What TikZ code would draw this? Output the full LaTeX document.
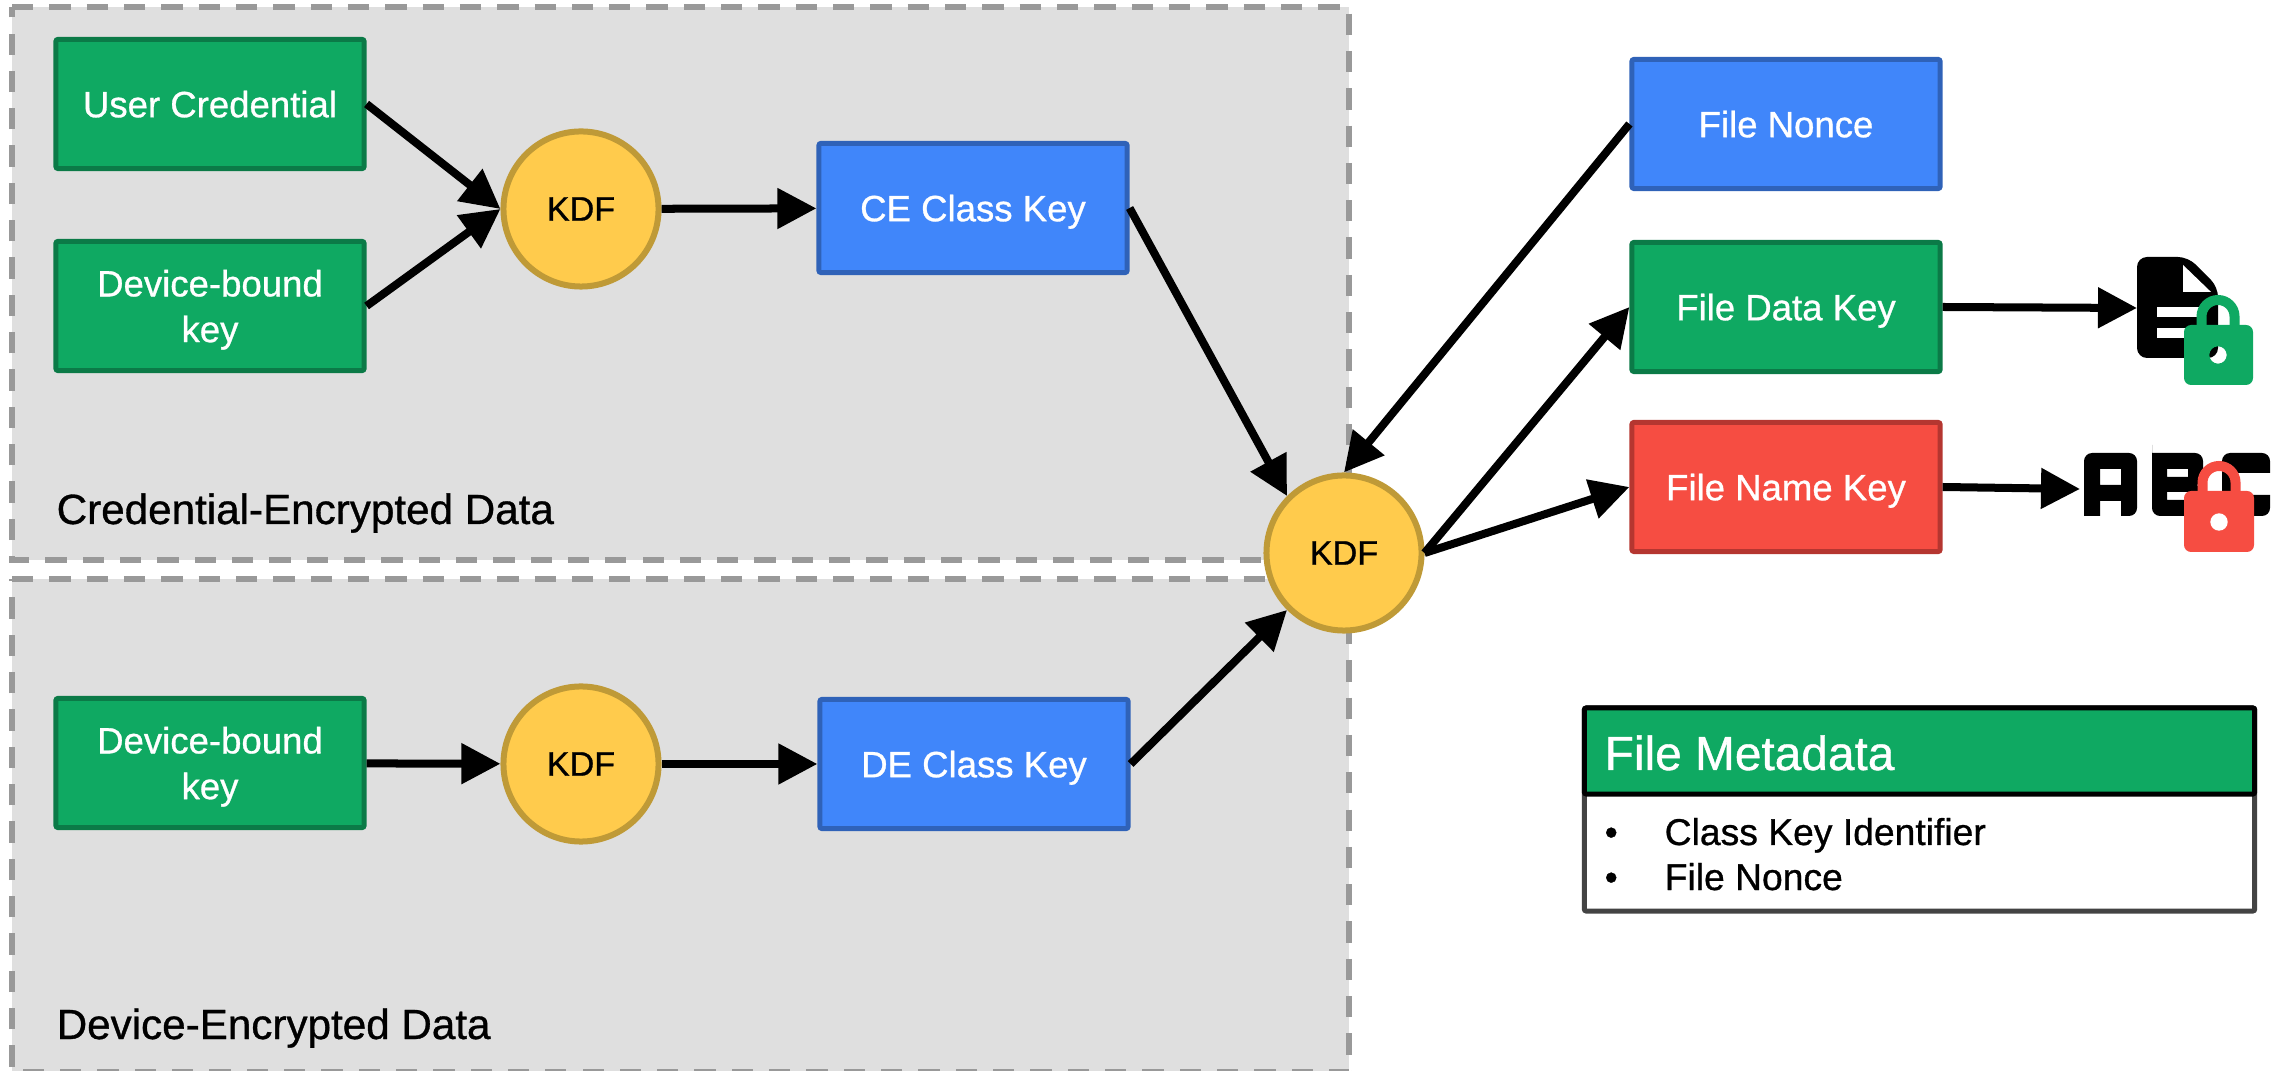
\documentclass[tikz,border=0pt]{standalone}
\usepackage{fontspec}
\setmainfont[FakeBold=0.8]{Liberation Sans}
\usetikzlibrary{arrows.meta}
\definecolor{regionfill}{HTML}{DFDFDF}
\definecolor{regionline}{HTML}{999999}
\definecolor{greenfill}{HTML}{0FA962}
\definecolor{greenline}{HTML}{0B7A47}
\definecolor{bluefill}{HTML}{4086FA}
\definecolor{blueline}{HTML}{2F62B8}
\definecolor{redfill}{HTML}{F64D42}
\definecolor{redline}{HTML}{B53630}
\definecolor{kdffill}{HTML}{FFCB4C}
\definecolor{kdfline}{HTML}{BF9A37}
\definecolor{metaline}{HTML}{434343}
\tikzset{
  keybox/.style={draw, line width=0.05cm, rounded corners=0.02cm, minimum width=3.08cm, minimum height=1.29cm,
    align=center, text=white, text depth=0pt, font=\fontsize{10.4}{13}\selectfont},
  greenbox/.style={keybox, fill=greenfill, draw=greenline},
  bluebox/.style={keybox, fill=bluefill, draw=blueline},
  redbox/.style={keybox, fill=redfill, draw=redline},
  kdf/.style={circle, draw=kdfline, fill=kdffill, line width=0.06cm, minimum size=1.55cm, inner sep=0pt,
    font=\fontsize{9.7}{13}\selectfont},
  region/.style={fill=regionfill, draw=regionline, line width=0.055cm, dash pattern=on 0.213cm off 0.16cm},
  regionlabel/.style={anchor=base west, inner sep=0pt, font=\fontsize{12}{14}\selectfont},
  metatext/.style={anchor=base west, inner sep=0pt, font=\fontsize{10.6}{13}\selectfont},
  link/.style={line width=0.08cm, -{Triangle[length=0.39cm,width=0.39cm]}},
}
\begin{document}
\begin{tikzpicture}[x=0.01cm,y=-0.01cm]
\useasboundingbox (0,0) rectangle (2295,1071);

% grey areas
\draw [region] (12,7) -- (1349,7) -- (1349,560) -- (12,560) -- cycle;
\draw [region] (12,579) -- (1349,579) -- (1349,1072) -- (12,1072) -- cycle;
\node [regionlabel] (celabel) at (56,524) {Credential-Encrypted Data};
\node [regionlabel] (delabel) at (56,1039) {Device-Encrypted Data};

% upper row
\node [greenbox] (cred) at (210,104) {User Credential};
\node [greenbox] (cebound) at (210,306) {Device-bound\\key};
\node [kdf] (cekdf) at (581,209) {KDF};
\node [bluebox] (cekey) at (973,208) {CE Class Key};

% lower row
\node [greenbox] (debound) at (210,763) {Device-bound\\key};
\node [kdf] (dekdf) at (581,764) {KDF};
\node [bluebox] (dekey) at (974,764) {DE Class Key};

% right side
\node [kdf] (filekdf) at (1344,553) {KDF};
\node [bluebox] (nonce) at (1786,124) {File Nonce};
\node [greenbox] (datakey) at (1786,307) {File Data Key};
\node [redbox] (namekey) at (1786,487) {File Name Key};
\coordinate (docicon) at (2137,308);
\coordinate (abcicon) at (2080,489);

\draw [link] (cred.east) -- (cekdf.west);
\draw [link] (cebound.east) -- (cekdf.west);
\draw [link] (cekdf) -- (cekey);
\draw [link] (cekey.east) -- (filekdf.135);
\draw [link] (debound) -- (dekdf);
\draw [link] (dekdf) -- (dekey);
\draw [link] (dekey.east) -- (filekdf.225);
\draw [link] (nonce.west) -- (filekdf.north);
\draw [link] (filekdf.east) -- (datakey.west);
\draw [link] (filekdf.east) -- (namekey.west);
\draw [link] (datakey.east) -- (docicon);
\draw [link] (namekey.east) -- (abcicon);

% file icon
\fill [rounded corners=0.1cm] (2137,257) -- (2188,257) -- (2218,287) -- (2218,358) -- (2137,358) -- cycle;
\fill [white] (2183,265) -- (2211,292) -- (2183,292) -- cycle;
\fill [white] (2157,307) rectangle (2205,317);
\fill [white] (2157,328) rectangle (2205,338);
\draw [greenfill, line width=0.1cm] (2201.5,326) -- (2201.5,316.5) arc [start angle=180, end angle=360, radius=16.5] -- (2234.5,326);
\fill [greenfill, even odd rule, rounded corners=0.07cm] (2184,325) rectangle (2253,385)
  [sharp corners] (2218,355) circle [radius=8.7];

% abc icon
\fill [even odd rule] [rounded corners=0.08cm] (2084,516) -- (2084,453) -- (2137,453) -- (2137,516) [sharp corners] -- (2121,516) -- (2121,501) -- (2100,501) -- (2100,516) -- cycle
  (2100,469) rectangle (2121,485);
\fill [even odd rule] [rounded corners=0.08cm] (2152,516) -- (2152,453) [sharp corners] -- (2152,453) [rounded corners=0.08cm] -- (2203,453) -- (2203,484) -- (2196,485) -- (2203,486) -- (2203,516) -- cycle
  [sharp corners] (2167,469) rectangle (2188,477) (2167,492) rectangle (2188,500);
\fill [rounded corners=0.08cm] (2222,453) -- (2270,453) -- (2270,473) [sharp corners] -- (2270,473) -- (2236,473) -- (2236,495) -- (2270,495) [rounded corners=0.08cm] -- (2270,516) -- (2222,516) -- cycle;
\draw [redfill, line width=0.1cm] (2202.5,492) -- (2202.5,482.5) arc [start angle=180, end angle=360, radius=16.5] -- (2235.5,492);
\fill [redfill, rounded corners=0.07cm] (2184,491) rectangle (2254,552);
\fill [white] (2219,522) circle [radius=8.7];

% metadata table
\node [draw=metaline, fill=white, line width=0.05cm, rounded corners=0.02cm, minimum width=6.7cm, minimum height=2.03cm] (metabody) at (1919.5,809.5) {};
\node [draw=black, fill=greenfill, line width=0.05cm, rounded corners=0.02cm, minimum width=6.7cm, minimum height=0.86cm] (metahead) at (1919.5,751) {};
\node [anchor=base west, inner sep=0pt, text=white, font=\fontsize{13.6}{16}\selectfont] (metatitle) at (1604,770) {File Metadata};
\node [metatext] (bulleta) at (1604,845) {\textbullet};
\node [metatext] (itema) at (1664,845) {Class Key Identifier};
\node [metatext] (bulletb) at (1604,890) {\textbullet};
\node [metatext] (itemb) at (1664,890) {File Nonce};
\end{tikzpicture}
\end{document}
